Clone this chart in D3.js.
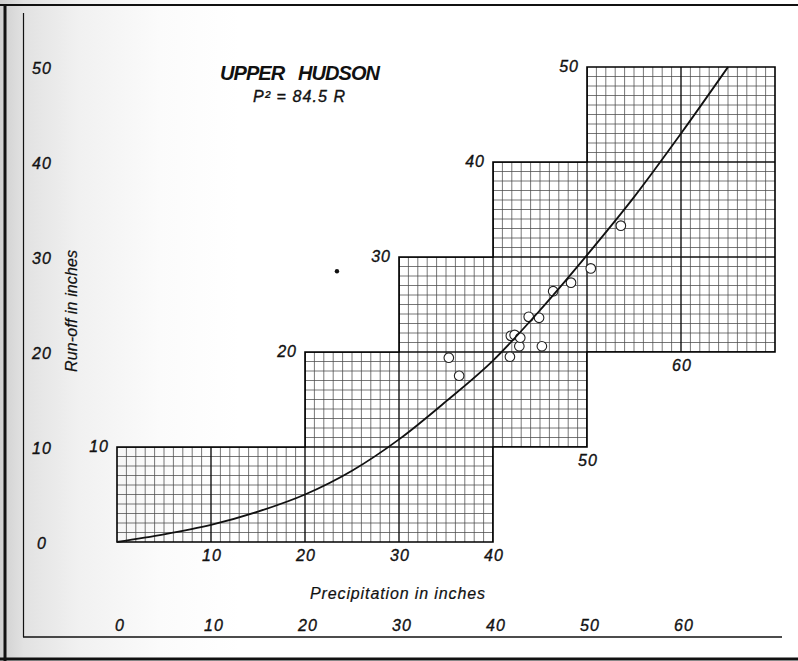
<!DOCTYPE html>
<html><head><meta charset="utf-8">
<script src="https://cdn.jsdelivr.net/npm/d3@7"></script>
<style>html,body{margin:0;padding:0;background:#fff;} svg{display:block}</style>
</head><body>
<svg id="c" width="798" height="661"></svg>
<script>
// ---- data ----
// fitted curve  P^2 = 84.5 R  (as drawn)
const curveP = [0, 5, 10, 15, 20, 25, 30, 35, 40, 45, 50, 55, 60, 65];
const curveR = [0, 0.8, 1.8, 3.2, 5.0, 7.5, 10.8, 14.8, 19.1, 24.4, 30.2, 36.3, 43.0, 50.0];
// observed years (open circles)
const obsP = [35.3, 36.4, 41.8, 42.8, 45.2, 41.9, 42.3, 42.9, 43.8, 44.9, 46.4, 48.3, 50.4, 53.6];
const obsR = [19.4, 17.5, 19.5, 20.6, 20.6, 21.7, 21.8, 21.5, 23.7, 23.6, 26.4, 27.3, 28.8, 33.3];
// stepped outline of the ruled paper
const stepP = [0, 0, 20, 20, 30, 30, 40, 40, 50, 50, 70, 70, 50, 50, 40, 40];
const stepR = [0, 10, 10, 20, 20, 30, 30, 40, 40, 50, 50, 20, 20, 10, 10, 0];
// tick labels
const leftTicks = [0, 10, 20, 30, 40, 50];
const bottomTicks = [0, 10, 20, 30, 40, 50, 60];
const cornerP = [0, 20, 30, 40, 50];
const cornerR = [10, 20, 30, 40, 50];
const baseP = [10, 20, 30, 40, 50, 60];
const baseR = [0, 0, 0, 0, 10, 20];
const speckP = [23.4];
const speckR = [28.5];
const titleText = "UPPER   HUDSON";
const formulaText = "P\u00B2 = 84.5 R";
const xTitle = "Precipitation in inches";
const yTitle = "Run-off in inches";

// ---- drawing ----
const svg = d3.select("#c");
const W = 798, H = 661;
const x = d3.scaleLinear().domain([0, 70]).range([117, 775]);
const y = d3.scaleLinear().domain([0, 50]).range([542, 67]);
const FONT = "'Liberation Sans', Arial, sans-serif";

const defs = svg.append("defs");
const grad = defs.append("linearGradient").attr("id", "bg").attr("x1", 0).attr("x2", 1).attr("y1", 0).attr("y2", 0);
[[0, "#cfcfcf"], [0.03, "#e2e2e2"], [0.1, "#f1f1f1"], [0.2, "#fbfbfb"], [0.3, "#ffffff"], [1, "#ffffff"]]
  .forEach(([o, c]) => grad.append("stop").attr("offset", o).attr("stop-color", c));
svg.append("rect").attr("width", W).attr("height", H).attr("fill", "url(#bg)");

const outline = d3.range(stepP.length).map(i => [x(stepP[i]), y(stepR[i])]);
defs.append("clipPath").attr("id", "paper").append("polygon")
  .attr("points", outline.map(p => p.join(",")).join(" "));

const grid = svg.append("g").attr("clip-path", "url(#paper)");
const minorP = d3.range(0, 71).filter(v => v % 10 !== 0);
const minorR = d3.range(0, 51).filter(v => v % 10 !== 0);
grid.selectAll("line.mv").data(minorP).join("line")
  .attr("x1", d => x(d)).attr("x2", d => x(d)).attr("y1", y(0)).attr("y2", y(50))
  .attr("stroke", "#4a4a4a").attr("stroke-width", 0.75);
grid.selectAll("line.mh").data(minorR).join("line")
  .attr("y1", d => y(d)).attr("y2", d => y(d)).attr("x1", x(0)).attr("x2", x(70))
  .attr("stroke", "#4a4a4a").attr("stroke-width", 0.75);
grid.selectAll("line.Mv").data(d3.range(10, 70, 10)).join("line")
  .attr("x1", d => x(d)).attr("x2", d => x(d)).attr("y1", y(0)).attr("y2", y(50))
  .attr("stroke", "#111").attr("stroke-width", 1.4);
grid.selectAll("line.Mh").data(d3.range(10, 50, 10)).join("line")
  .attr("y1", d => y(d)).attr("y2", d => y(d)).attr("x1", x(0)).attr("x2", x(70))
  .attr("stroke", "#111").attr("stroke-width", 1.4);

svg.append("polygon").attr("points", outline.map(p => p.join(",")).join(" "))
  .attr("fill", "none").attr("stroke", "#000").attr("stroke-width", 1.6);

// observations
svg.selectAll("circle.obs").data(d3.range(obsP.length)).join("circle")
  .attr("cx", i => x(obsP[i])).attr("cy", i => y(obsR[i])).attr("r", 4.8)
  .attr("fill", "#fff").attr("stroke", "#222").attr("stroke-width", 1.1);

// curve
const line = d3.line().x(i => x(curveP[i])).y(i => y(curveR[i])).curve(d3.curveMonotoneX);
svg.append("path").attr("d", line(d3.range(curveP.length)))
  .attr("fill", "none").attr("stroke", "#111").attr("stroke-width", 1.8);

// speck
svg.selectAll("circle.sp").data(d3.range(speckP.length)).join("circle")
  .attr("cx", i => x(speckP[i])).attr("cy", i => y(speckR[i])).attr("r", 2.2).attr("fill", "#111");

// frame
const frame = svg.append("g").attr("stroke", "#111").attr("fill", "none");
frame.append("line").attr("x1", 0).attr("x2", W).attr("y1", 5).attr("y2", 5).attr("stroke-width", 2.2);
frame.append("line").attr("x1", 5).attr("x2", 5).attr("y1", 4).attr("y2", 661).attr("stroke-width", 3);
frame.append("line").attr("x1", 0).attr("x2", W).attr("y1", 659).attr("y2", 659).attr("stroke-width", 3);
frame.append("line").attr("x1", 23.5).attr("x2", 23.5).attr("y1", 13).attr("y2", 637).attr("stroke-width", 1.2);
frame.append("line").attr("x1", 23).attr("x2", 782).attr("y1", 637).attr("y2", 637).attr("stroke-width", 1.4);

const txt = svg.append("g").attr("font-family", FONT).attr("font-style", "italic")
  .attr("fill", "#111").attr("stroke", "#111").attr("stroke-width", 0.35);

// left ticks
txt.selectAll("text.lt").data(leftTicks).join("text")
  .attr("x", 42).attr("y", d => y(d) + 7).attr("text-anchor", "middle")
  .attr("font-size", 16).attr("letter-spacing", 1).text(d => d);
// bottom ticks
txt.selectAll("text.bt").data(bottomTicks).join("text")
  .attr("x", d => x(d) + 3).attr("y", 631).attr("text-anchor", "middle")
  .attr("font-size", 16).attr("letter-spacing", 1).text(d => d);
// corner labels
txt.selectAll("text.cl").data(d3.range(cornerP.length)).join("text")
  .attr("x", i => x(cornerP[i]) - 8).attr("y", i => y(cornerR[i]) + 5).attr("text-anchor", "end")
  .attr("font-size", 16).attr("letter-spacing", 1).text(i => cornerR[i]);
// base labels
txt.selectAll("text.bl").data(d3.range(baseP.length)).join("text")
  .attr("x", i => x(baseP[i]) + 1).attr("y", i => y(baseR[i]) + 19).attr("text-anchor", "middle")
  .attr("font-size", 16).attr("letter-spacing", 1).text(i => baseP[i]);

// titles
txt.append("text").attr("x", 220).attr("y", 80).attr("font-size", 20).attr("font-weight", "bold")
  .style("white-space", "pre").attr("stroke-width", 0)
  .attr("textLength", 160).attr("lengthAdjust", "spacing").text(titleText);
txt.append("text").attr("x", 253).attr("y", 102).attr("font-size", 16)
  .attr("textLength", 92).attr("lengthAdjust", "spacing").text(formulaText);
txt.append("text").attr("x", 310).attr("y", 599).attr("font-size", 16)
  .attr("stroke-width", 0.2).attr("textLength", 175).attr("lengthAdjust", "spacing").text(xTitle);
txt.append("text").attr("transform", "translate(77,372) rotate(-90)").attr("font-size", 16)
  .attr("stroke-width", 0.2).attr("textLength", 122).attr("lengthAdjust", "spacing").text(yTitle);
</script>
</body></html>
